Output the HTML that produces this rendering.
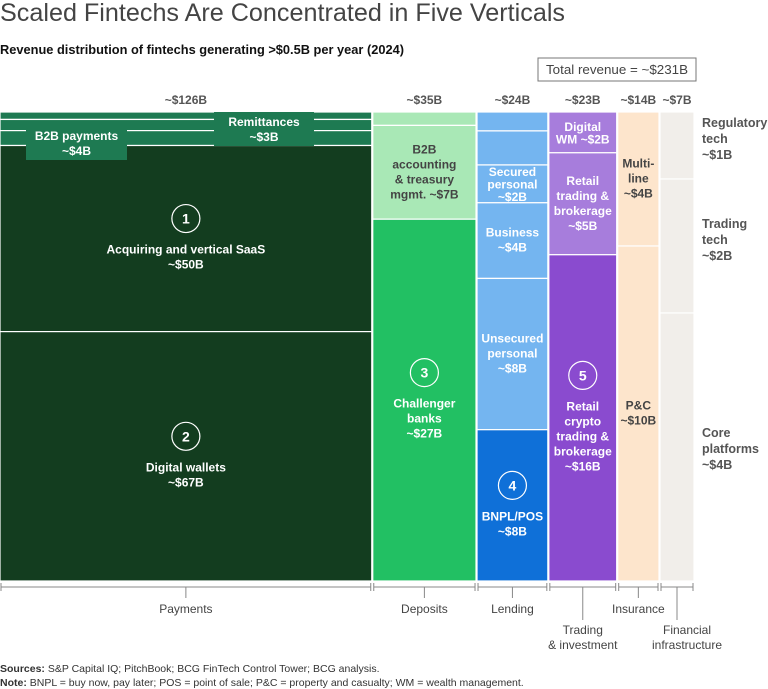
<!DOCTYPE html>
<html><head><meta charset="utf-8">
<style>
body{margin:0;background:#fff;}
svg{display:block;font-family:"Liberation Sans",sans-serif;}
</style></head>
<body>
<svg id="c" width="768" height="689" viewBox="0 0 768 689">
<text x="0" y="21" font-size="25" fill="#444" textLength="565" lengthAdjust="spacingAndGlyphs">Scaled Fintechs Are Concentrated in Five Verticals</text>
<text x="0" y="54" font-size="12.5" font-weight="bold" fill="#111" textLength="404" lengthAdjust="spacingAndGlyphs">Revenue distribution of fintechs generating &gt;$0.5B per year (2024)</text>
<rect x="538" y="58" width="158" height="23" fill="#fff" stroke="#777"/>
<text x="617" y="74" font-size="12.5" fill="#444" text-anchor="middle" textLength="142" lengthAdjust="spacingAndGlyphs">Total revenue = ~$231B</text>
<g id="marks"></g>
<text x="0" y="672" font-size="10.5" fill="#333"><tspan font-weight="bold">Sources:</tspan> S&amp;P Capital IQ; PitchBook; BCG FinTech Control Tower; BCG analysis.</text>
<text x="0" y="686" font-size="10.5" fill="#333"><tspan font-weight="bold">Note:</tspan> BNPL = buy now, pay later; POS = point of sale; P&amp;C = property and casualty; WM = wealth management.</text>
</svg>
<script>
const categories=["Payments","Deposits","Lending","Trading\n& investment","Insurance","Financial\ninfrastructure"];
const totals=[126,35,24,23,14,7];
const totalLabels=["~$126B","~$35B","~$24B","~$23B","~$14B","~$7B"];
const segNames=[
 ["Other payments","Remittances","B2B payments","Acquiring and vertical SaaS","Digital wallets"],
 ["Other deposits","B2B accounting & treasury mgmt.","Challenger banks"],
 ["Other lending a","Other lending b","Secured personal","Business","Unsecured personal","BNPL/POS"],
 ["Digital WM","Retail trading & brokerage","Retail crypto trading & brokerage"],
 ["Multi-line","P&C"],
 ["Regulatory tech","Trading tech","Core platforms"]];
const segValues=[[2,3,4,50,67],[1,7,27],[1,1.8,2,4,8,8],[2,5,16],[4,10],[1,2,4]];
const segColors=[["#1e7a52","#1e7a52","#1e7a52","#133d1f","#133d1f"],["#a9e8b6","#a9e8b6","#22c063"],["#74b5f0","#74b5f0","#74b5f0","#74b5f0","#74b5f0","#0f70d8"],["#a77ddc","#a77ddc","#8a4bcf"],["#fde5cc","#fde5cc"],["#f1eeea","#f1eeea","#f1eeea"]];
const segText=[
 [null,null,null,["1","Acquiring and vertical SaaS","~$50B"],["2","Digital wallets","~$67B"]],
 [null,["","B2B","accounting","& treasury","mgmt. ~$7B"],["3","Challenger","banks","~$27B"]],
 [null,null,["","Secured","personal","~$2B"],["","Business","~$4B"],["","Unsecured","personal","~$8B"],["4","BNPL/POS","~$8B"]],
 [["","Digital","WM ~$2B"],["","Retail","trading &","brokerage","~$5B"],["5","Retail","crypto","trading &","brokerage","~$16B"]],
 [["","Multi-","line","~$4B"],["","P&C","~$10B"]],
 [null,null,null]];
const sideLabels=[["Regulatory","tech","~$1B"],["Trading","tech","~$2B"],["Core","platforms","~$4B"]];

const NS="http://www.w3.org/2000/svg";
const g=document.getElementById("marks");
const X0=0,W=694,GAP=1,Y0=112,Y1=581,MINW=34;
const k=(W-MINW-GAP*(totals.length-1))/totals.slice(0,-1).reduce((a,b)=>a+b,0);
const xw=v=>Math.max(v*k,MINW);
const yh=(v,t)=>v/t*(Y1-Y0);
function el(tag,attrs,parent){const e=document.createElementNS(NS,tag);for(const a in attrs)e.setAttribute(a,attrs[a]);(parent||g).appendChild(e);return e;}
function txt(x,y,s,opt){const t=el("text",Object.assign({x:x,y:y,"font-size":12,"text-anchor":"middle"},opt||{}));t.textContent=s;return t;}
let x=X0;
categories.forEach((cat,i)=>{
  const w=xw(totals[i]);
  const col=el("g",{});
  
  
  let y=Y0;
  const tot=segValues[i].reduce((a,b)=>a+b,0);
  segValues[i].forEach((v,j)=>{
    const h=yh(v,tot);
    const r=el("rect",{x:x,y:y,width:w,height:h,fill:segColors[i][j],stroke:"#fff","stroke-width":1.2},col);
    
    
    const lab=segText[i][j];
    if(lab){
      const dark=["#a9e8b6","#fde5cc","#f1eeea"].includes(segColors[i][j]);
      const fill=dark?"#444":"#fff";
      const lines=lab.slice(1);
      const hasCircle=lab[0]!=="";
      const lh=h<50?12.5:15;
      const blockH=lines.length*lh+(hasCircle?38:0);
      let cy=y+h/2-blockH/2;
      const cx=x+w/2;
      if(hasCircle){
        const c=el("circle",{cx:cx,cy:cy+14,r:14,fill:"none",stroke:"#fff","stroke-width":1.2},col);
        
        
        const n=txt(cx,cy+19,lab[0],{fill:"#fff","font-size":14,"font-weight":"bold"});
        
        
        cy+=38;
      }
      lines.forEach((s,m)=>{
        const t=txt(cx,cy+11+m*lh,s,{fill:fill,"font-weight":"bold","font-size":12});
        
        
      });
    }
    y+=h;
  });
  const tl=txt(x+w/2,104,totalLabels[i],{fill:"#555","font-weight":"bold","font-size":12});
  
  
  const ay=587;
  el("line",{x1:x+1,x2:x+w-1,y1:ay,y2:ay,stroke:"#888"});
  el("line",{x1:x+1,x2:x+1,y1:ay-4,y2:ay+4,stroke:"#888"});
  el("line",{x1:x+w-1,x2:x+w-1,y1:ay-4,y2:ay+4,stroke:"#888"});
  const lines=cat.split("\n");
  const two=lines.length>1;
  el("line",{x1:x+w/2,x2:x+w/2,y1:ay,y2:two?620:598,stroke:"#888"});
  const cxl=i===5?x+w/2+10:x+w/2;
  lines.forEach((s,m)=>{
    const t=txt(cxl,(two?634:613)+m*15,s,{fill:"#444","font-size":12});
    
    
  });
  if(i===0){
    [[26,128,101,32,["B2B payments","~$4B"],140],[214,112,100,34,["Remittances","~$3B"],126]].forEach(b=>{
      const r=el("rect",{x:b[0],y:b[1],width:b[2],height:b[3],fill:"#1e7a52"},col);
      
      
      b[4].forEach((s,m)=>{const t=txt(b[0]+b[2]/2,b[5]+m*15,s,{fill:"#fff","font-weight":"bold"});
        
        });
    });
  }
  if(i===5){
    let yy=Y0;
    segValues[i].forEach((v,j)=>{
      const h=yh(v,tot);
      const base=j===0?yy+15:yy+h/2-(j===1?18:10);
      sideLabels[j].forEach((s,m)=>{const t=txt(702,base+m*16,s,{fill:"#555","font-weight":"bold","font-size":12.5,"text-anchor":"start"});
        
        });
      yy+=h;
    });
  }
  x+=w+GAP;
});
</script>
</body></html>
